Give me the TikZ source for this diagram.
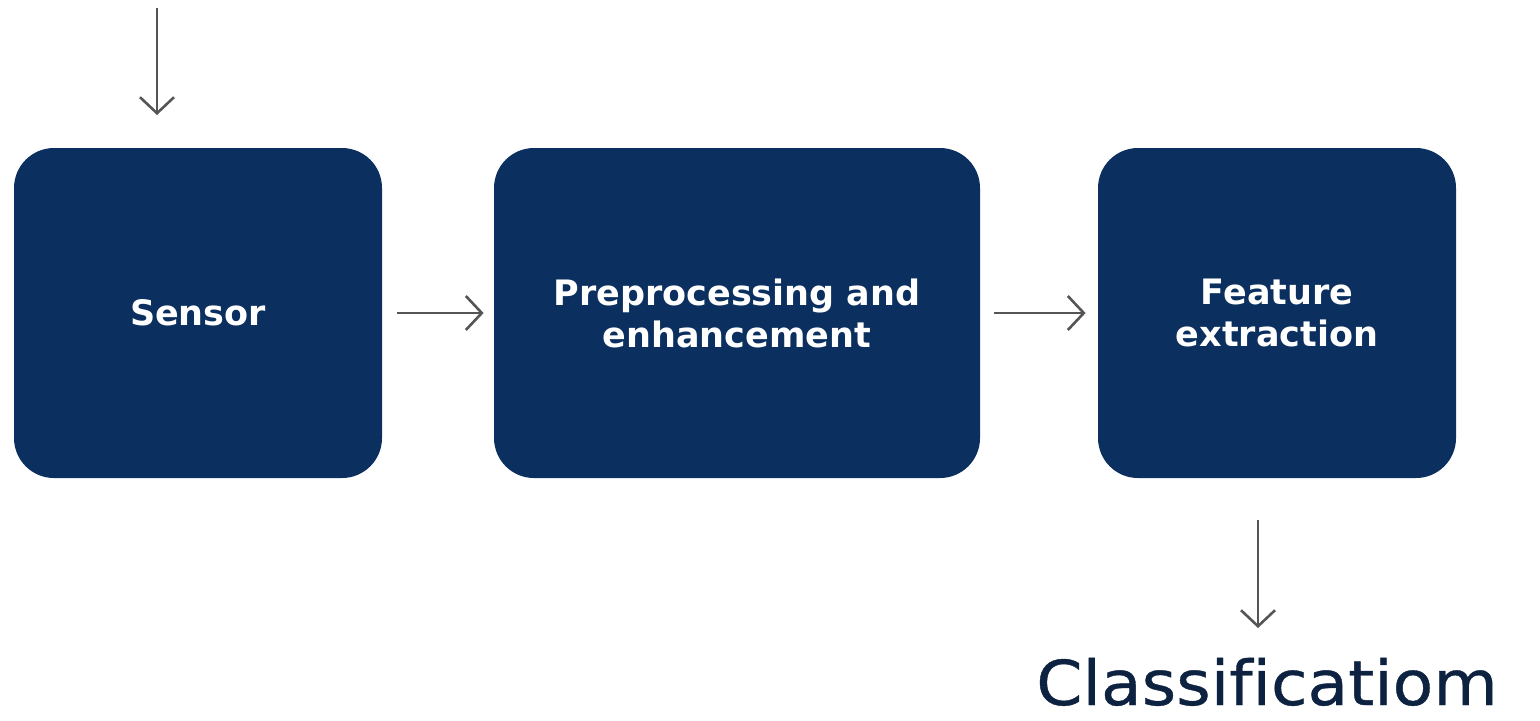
\documentclass[tikz,border=0pt]{standalone}
\usepackage{fontspec}
\setmainfont{DejaVu Sans}[Ligatures=NoCommon]
\newfontfamily\clsfont{DejaVu Sans}[Ligatures=NoCommon,FakeStretch=1.07,FakeBold=0.6]
\usetikzlibrary{arrows.meta}
\definecolor{boxnavy}{HTML}{0B2F5E}
\definecolor{arrowgray}{HTML}{555555}
\definecolor{textnavy}{HTML}{0D2240}
\tikzset{
  stagebox/.style={rectangle, rounded corners=20pt, fill=boxnavy, draw=none,
    text=white, font=\bfseries\fontsize{17.5pt}{21pt}\selectfont, align=center,
    minimum height=165pt, inner sep=0pt},
  flowarrow/.style={draw=arrowgray, line width=1.3pt,
    -{Straight Barb[length=8pt,width=17pt,line width=1.3pt]}},
}
\begin{document}
\begin{tikzpicture}[x=0.5pt,y=-0.5pt]
\useasboundingbox (0,0) rectangle (1540,720);
\node[stagebox, minimum width=184pt] (sensor) at (198,313) {Sensor};
\node[stagebox, minimum width=243pt] (prep) at (737,313) {Preprocessing and\\enhancement};
\node[stagebox, minimum width=179pt] (feat) at (1277,313) {Feature\\extraction};
\node[text=textnavy, font=\clsfont\fontsize{31pt}{34pt}\selectfont, anchor=base, inner sep=0pt] (cls) at (1267,705) {Classificatiom};
\coordinate (tin) at (157,8);
\coordinate (tout) at (157,115);
\coordinate (bin) at (1258,520);
\coordinate (bout) at (1258,628);
\draw[flowarrow] (tin) -- (tout);
\draw[flowarrow] ([xshift=7.5pt]sensor.east) -- ([xshift=-5pt]prep.west);
\draw[flowarrow] ([xshift=7pt]prep.east) -- ([xshift=-6pt]feat.west);
\draw[flowarrow] (bin) -- (bout);
\end{tikzpicture}
\end{document}
